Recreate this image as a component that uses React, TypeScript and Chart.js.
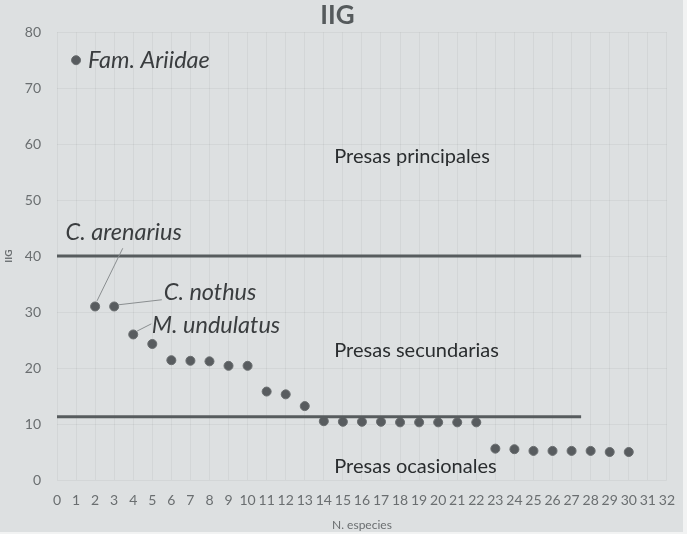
import React, { useEffect, useRef } from "react";
import { Chart, registerables } from "chart.js";

Chart.register(...registerables);

const speciesRank = [1,2,3,4,5,6,7,8,9,10,11,12,13,14,15,16,17,18,19,20,21,22,23,24,25,26,27,28,29,30];
const iigValues = [75,31,31,26,24.3,21.4,21.3,21.2,20.4,20.4,15.8,15.3,13.2,10.5,10.4,10.4,10.4,10.3,10.3,10.3,10.3,10.3,5.6,5.5,5.2,5.2,5.2,5.2,5.0,5.0];
const thresholds = [40, 11.3];
const thresholdExtent = [0, 27.5];

const speciesLabels = ["Fam. Ariidae", "C. arenarius", "C. nothus", "M. undulatus"];
const speciesLabelX = [1.62, 0.45, 5.6, 4.97];
const speciesLabelY = [75, 44.3, 33.6, 27.6];
const leaderFrom = [[3.45, 41.4], [3.22, 31.3], [4.2, 26.6]];
const leaderTo = [[2.1, 32.0], [5.5, 32.2], [4.95, 27.9]];

const zoneLabels = ["Presas principales", "Presas secundarias", "Presas ocasionales"];
const zoneLabelX = [14.55, 14.55, 14.55];
const zoneLabelY = [57.7, 23.2, 2.4];

const FONT = "Lato, 'Open Sans', sans-serif";

const annotationPlugin = {
  id: "annot",
  beforeDraw(chart: any) {
    const { ctx, width, height } = chart;
    ctx.save();
    ctx.fillStyle = "#dde0e1";
    ctx.fillRect(0, 0, width, height);
    ctx.fillStyle = "#f2f3f3";
    ctx.fillRect(width - 4, 0, 4, height);
    ctx.fillRect(0, height - 2, width, 2);
    ctx.restore();
  },
  afterDatasetsDraw(chart: any) {
    const { ctx } = chart;
    const xs = chart.scales.x;
    const ys = chart.scales.y;
    ctx.save();
    ctx.strokeStyle = "#8a8e90";
    ctx.lineWidth = 1;
    leaderFrom.forEach((f, i) => {
      const t = leaderTo[i];
      ctx.beginPath();
      ctx.moveTo(xs.getPixelForValue(f[0]), ys.getPixelForValue(f[1]));
      ctx.lineTo(xs.getPixelForValue(t[0]), ys.getPixelForValue(t[1]));
      ctx.stroke();
    });
    ctx.fillStyle = "#3a3d3f";
    ctx.textBaseline = "middle";
    ctx.textAlign = "left";
    ctx.font = "italic 23.5px " + FONT;
    speciesLabels.forEach((s, i) => {
      ctx.fillText(s, xs.getPixelForValue(speciesLabelX[i]), ys.getPixelForValue(speciesLabelY[i]));
    });
    ctx.font = "20px " + FONT;
    ctx.fillStyle = "#2a2d2f";
    zoneLabels.forEach((s, i) => {
      ctx.fillText(s, xs.getPixelForValue(zoneLabelX[i]), ys.getPixelForValue(zoneLabelY[i]));
    });
    ctx.restore();
  },
};

export default function App() {
  const ref = useRef<HTMLCanvasElement>(null);
  useEffect(() => {
    document.body.style.margin = "0";
    const points = speciesRank.map((x, i) => ({ x, y: iigValues[i] }));
    const lineSets = thresholds.map((t) => ({
      type: "line" as const,
      data: thresholdExtent.map((x) => ({ x, y: t })),
      borderColor: "#575c5e",
      borderWidth: 3,
      pointRadius: 0,
      showLine: true,
    }));
    const chart = new Chart(ref.current!, {
      type: "scatter",
      data: {
        datasets: [
          ...lineSets,
          {
            data: points,
            backgroundColor: "#585c5f",
            borderColor: "#6a6e70",
            borderWidth: 1,
            pointRadius: 4.5,
          } as any,
        ],
      },
      plugins: [annotationPlugin],
      options: {
        animation: false,
        responsive: false,
        layout: { padding: { left: 3, right: 15, top: 0, bottom: 2 } },
        plugins: {
          legend: { display: false },
          tooltip: { enabled: false },
          title: {
            display: true,
            text: "IIG",
            color: "#555a5c",
            font: { family: FONT, size: 26, weight: "bold" },
            padding: { top: 0, bottom: 1 },
          },
        },
        scales: {
          x: {
            type: "linear",
            min: 0,
            max: 32,
            afterFit: (s: any) => { s.height = 52; },
            ticks: { stepSize: 1, color: "#6a6e70", font: { family: FONT, size: 14 }, padding: 12, autoSkip: false, maxRotation: 0 },
            grid: { color: "rgba(0,0,0,0.045)", drawTicks: false },
            border: { display: false },
            title: { display: true, text: "N. especies", color: "#6a6e70", font: { family: FONT, size: 12 }, padding: { top: 4, bottom: 0 } },
          },
          y: {
            min: 0,
            max: 80,
            afterFit: (s: any) => { s.width = 54; },
            ticks: { stepSize: 10, color: "#6a6e70", font: { family: FONT, size: 14 }, padding: 16 },
            grid: { color: "rgba(0,0,0,0.045)", drawTicks: false },
            border: { display: false },
            title: { display: true, text: "IIG", color: "#6a6e70", font: { family: FONT, size: 10, weight: "bold" }, padding: { top: 0, bottom: 6 } },
          },
        },
      },
    });
    return () => chart.destroy();
  }, []);
  return <canvas ref={ref} width={687} height={534} style={{ display: "block" }} />;
}
